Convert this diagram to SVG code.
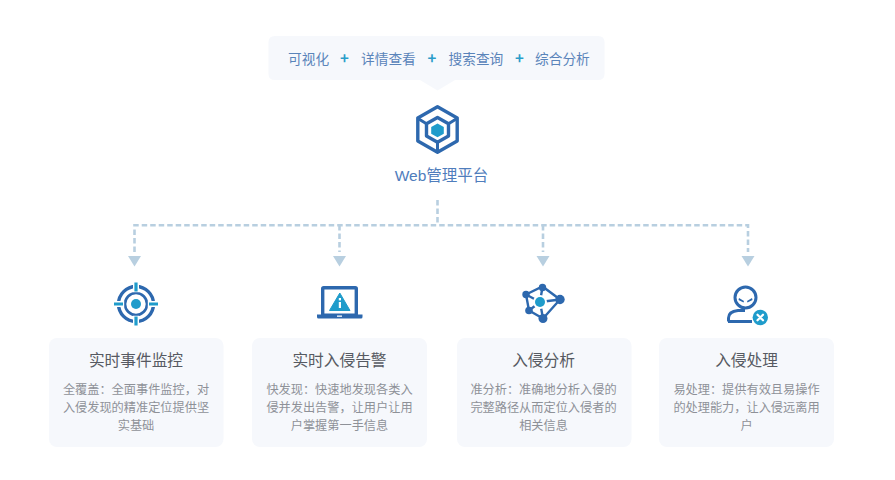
<svg xmlns="http://www.w3.org/2000/svg" width="895" height="480" viewBox="0 0 895 480">
<style>
text{font-family:"Noto Sans CJK SC","Noto Sans",sans-serif;text-anchor:middle}
.card{fill:#f6f8fc}
.t{font-size:15.7px;fill:#565a62}
.d{font-size:12.2px;fill:#8e9198}
.top{font-size:13.7px;fill:#5a84ba;text-anchor:start}
.plus{font-size:15px;font-weight:700;fill:#2a9dca}
.b{fill:none;stroke:#2d68ae}
.c{fill:#1f9ccb}
.bf{fill:#2d68ae}
.dash{fill:none;stroke:#b8cfe0;stroke-width:2.600;stroke-dasharray:5.500 3}
.ah{fill:#b8cfe0}
</style>
<g id="connectors">
<path class="dash" d="M437.500 200V225"/>
<path class="dash" d="M134.500 252V225.200H748V252"/>
<path class="dash" d="M339.500 225V252"/>
<path class="dash" d="M543 225V252"/>
<path class="ah" d="M128 256H141L134.500 266.500Z"/>
<path class="ah" d="M333 256H346L339.500 266.500Z"/>
<path class="ah" d="M536.500 256H549.500L543 266.500Z"/>
<path class="ah" d="M741.500 256H754.500L748 266.500Z"/>
</g>
<g id="features-bubble">
<path class="card" d="M275 36H598Q604.500 36 604.500 42V74Q604.500 80 598 80H455L437.500 90.500L420 80H275Q268.500 80 268.500 74V42Q268.500 36 275 36Z"/>
<text class="top" x="288" y="64">可视化</text>
<text class="plus" x="344.500" y="64">+</text>
<text class="top" x="361" y="64">详情查看</text>
<text class="plus" x="432" y="64">+</text>
<text class="top" x="448.500" y="64">搜索查询</text>
<text class="plus" x="519.500" y="64">+</text>
<text class="top" x="535" y="64">综合分析</text>
</g>
<g id="web-platform">
<path class="b" stroke-width="3.400" stroke-linejoin="round" d="M437.500 106.800L457.200 118V141L437.500 152.200L417.800 141V118Z"/>
<path class="b" stroke-width="3.400" stroke-linejoin="round" d="M437.500 117.500L448.500 123.800V136L437.500 142.300L426.500 136V123.800Z"/>
<path class="b" stroke-width="3" d="M418 118.500L426.500 123.800M457 118.500L448.500 123.800M437.500 142.300V152"/>
<path class="c" d="M437.500 123.500L443.800 127.100V133.700L437.500 137.300L431.200 133.700V127.100Z"/>
<text x="441.500" y="180.500" style="font-family:'Liberation Sans','Noto Sans CJK SC',sans-serif;font-size:15.500px;fill:#4f7dbc">Web管理平台</text>
</g>
<g id="node-monitor">
<rect class="card" x="49" y="338" width="174.500" height="109" rx="8"/>
<circle class="b" cx="136" cy="304" r="11" stroke-width="2.600"/>
<circle class="c" cx="136" cy="304" r="5"/>
<circle class="b" cx="136" cy="304" r="17.500" stroke-width="3.400"/>
<path stroke="#fff" stroke-width="6" d="M136 283V292.200M136 315.800V325M115 304H124.200M147.800 304H157"/>
<path stroke="#1f9ccb" stroke-width="3.200" d="M136 282.500V291.500M136 316.500V325.500M114 304H123M149 304H158"/>
<text class="t" x="136" y="366">实时事件监控</text>
<text class="d" x="136" y="394">全覆盖&#xFF1A;全面事件监控&#xFF0C;对</text>
<text class="d" x="136" y="412">入侵发现的精准定位提供坚</text>
<text class="d" x="136" y="430">实基础</text>
</g>
<g id="node-alert">
<rect class="card" x="252" y="338" width="175" height="109" rx="8"/>
<rect class="b" x="322.700" y="287.700" width="33.600" height="27.600" rx="1" stroke-width="3.400"/>
<path class="bf" d="M317 314.500H362.500V317Q362.500 318.500 361 318.500H318.500Q317 318.500 317 317Z"/>
<rect x="337" y="315.500" width="5" height="1.300" fill="#fff"/>
<path class="c" d="M339.800 293L350 310.500H329.500Z" stroke="#1f9ccb" stroke-linejoin="round"/>
<rect x="338.800" y="302" width="2.200" height="6" fill="#fff"/>
<rect x="338.800" y="298" width="2.200" height="2.400" fill="#fff"/>
<text class="t" x="339.500" y="366">实时入侵告警</text>
<text class="d" x="339.500" y="394">快发现&#xFF1A;快速地发现各类入</text>
<text class="d" x="339.500" y="412">侵并发出告警&#xFF0C;让用户让用</text>
<text class="d" x="339.500" y="430">户掌握第一手信息</text>
</g>
<g id="node-analysis">
<rect class="card" x="457" y="338" width="174.500" height="109" rx="8"/>
<path class="b" stroke-width="2.400" d="M526 294.500L542.500 286.500L560 299.500L543 318.500L529 310.500ZM540 302L542.500 287M540 302L560 299.500M540 302L543 318.500M540 302L529 310.500M540 302L526 294.500"/>
<circle class="bf" cx="526" cy="294.500" r="3.700"/>
<circle class="bf" cx="542.500" cy="287.500" r="3.700"/>
<circle class="bf" cx="560" cy="299.500" r="4.700"/>
<circle class="bf" cx="529" cy="310.500" r="3.800"/>
<circle class="bf" cx="543" cy="318.500" r="4.500"/>
<circle cx="540" cy="302" r="7" fill="#fff"/>
<circle class="c" cx="540" cy="302" r="5"/>
<text class="t" x="543.500" y="366">入侵分析</text>
<text class="d" x="543.500" y="394">准分析&#xFF1A;准确地分析入侵的</text>
<text class="d" x="543.500" y="412">完整路径从而定位入侵者的</text>
<text class="d" x="543.500" y="430">相关信息</text>
</g>
<g id="node-response">
<rect class="card" x="659" y="338" width="175" height="109" rx="8"/>
<circle class="b" cx="745.500" cy="297.500" r="10.500" stroke-width="3"/>
<path class="bf" d="M739 298L744 301L743.500 302.500L738.500 300ZM752 298L747 301L747.500 302.500L752.500 300Z"/>
<path class="b" stroke-width="3" d="M728.500 321.500V318Q728.500 311.500 738 310.500H745M728 321.500H752"/>
<circle class="c" cx="760.300" cy="317.500" r="7.700"/>
<path stroke="#fff" stroke-width="2.200" stroke-linecap="round" d="M757.500 314.700L763 320.300M763 314.700L757.500 320.300"/>
<text class="t" x="746.500" y="366">入侵处理</text>
<text class="d" x="746.500" y="394">易处理&#xFF1A;提供有效且易操作</text>
<text class="d" x="746.500" y="412">的处理能力&#xFF0C;让入侵远离用</text>
<text class="d" x="746.500" y="430">户</text>
</g>
</svg>
